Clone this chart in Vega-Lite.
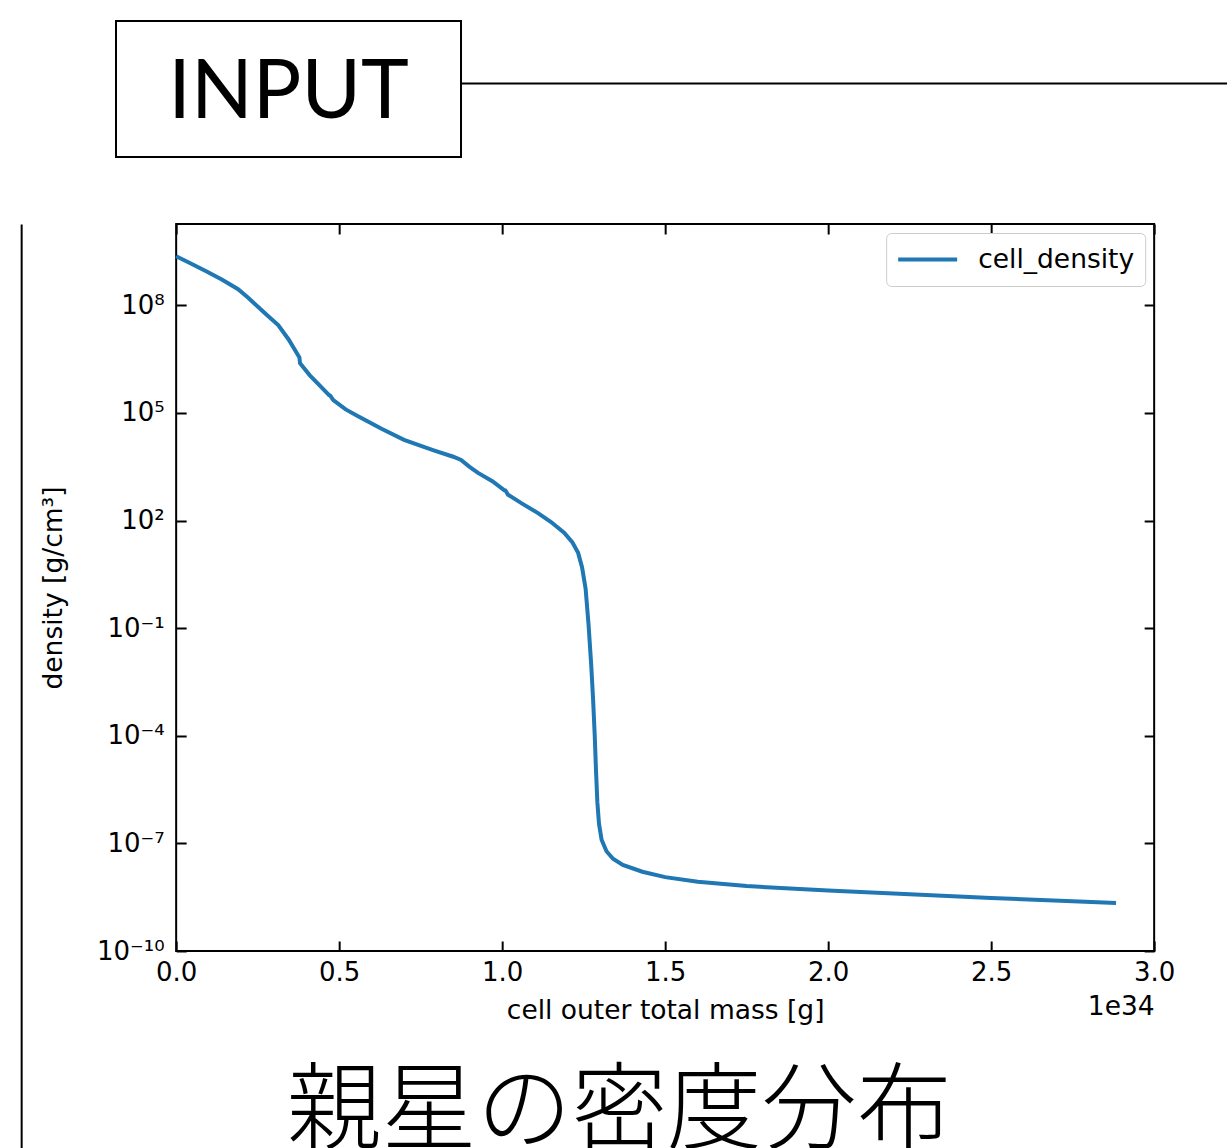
{
  "$schema": "https://vega.github.io/schema/vega-lite/v6.json",
  "background": "white",
  "padding": {"left": 20, "top": 20, "right": 0, "bottom": 0},
  "spacing": 64,
  "center": true,
  "resolve": {"scale": {"color": "independent"}, "legend": {"color": "independent"}},
  "datasets": {
    "profile": [
      {"mass": 0, "density": 2.344e9, "series": "cell_density"},
      {"mass": 4.5e32, "density": 1.479e9, "series": "cell_density"},
      {"mass": 9.2e32, "density": 8.91e8, "series": "cell_density"},
      {"mass": 1.4e33, "density": 5.25e8, "series": "cell_density"},
      {"mass": 1.9e33, "density": 2.82e8, "series": "cell_density"},
      {"mass": 2.2e33, "density": 1.66e8, "series": "cell_density"},
      {"mass": 2.5e33, "density": 9.33e7, "series": "cell_density"},
      {"mass": 2.8e33, "density": 5.25e7, "series": "cell_density"},
      {"mass": 3.13e33, "density": 2.82e7, "series": "cell_density"},
      {"mass": 3.45e33, "density": 1.122e7, "series": "cell_density"},
      {"mass": 3.74e33, "density": 4.07e6, "series": "cell_density"},
      {"mass": 3.78e33, "density": 3.55e6, "series": "cell_density"},
      {"mass": 3.8e33, "density": 2.45e6, "series": "cell_density"},
      {"mass": 4.1e33, "density": 1.122e6, "series": "cell_density"},
      {"mass": 4.4e33, "density": 5.89e5, "series": "cell_density"},
      {"mass": 4.69e33, "density": 3.16e5, "series": "cell_density"},
      {"mass": 4.73e33, "density": 3.02e5, "series": "cell_density"},
      {"mass": 4.82e33, "density": 2.29e5, "series": "cell_density"},
      {"mass": 5.2e33, "density": 1.259e5, "series": "cell_density"},
      {"mass": 5.58e33, "density": 8.13e4, "series": "cell_density"},
      {"mass": 6.3e33, "density": 3.63e4, "series": "cell_density"},
      {"mass": 6.99e33, "density": 1.778e4, "series": "cell_density"},
      {"mass": 7.9e33, "density": 9120, "series": "cell_density"},
      {"mass": 8.5e33, "density": 6030, "series": "cell_density"},
      {"mass": 8.74e33, "density": 4900, "series": "cell_density"},
      {"mass": 9.0e33, "density": 3160, "series": "cell_density"},
      {"mass": 9.26e33, "density": 2140, "series": "cell_density"},
      {"mass": 9.7e33, "density": 1259, "series": "cell_density"},
      {"mass": 1.006e34, "density": 708, "series": "cell_density"},
      {"mass": 1.01e34, "density": 692, "series": "cell_density"},
      {"mass": 1.018e34, "density": 525, "series": "cell_density"},
      {"mass": 1.06e34, "density": 302, "series": "cell_density"},
      {"mass": 1.11e34, "density": 162, "series": "cell_density"},
      {"mass": 1.15e34, "density": 91.2, "series": "cell_density"},
      {"mass": 1.19e34, "density": 45.7, "series": "cell_density"},
      {"mass": 1.215e34, "density": 25.1, "series": "cell_density"},
      {"mass": 1.233e34, "density": 12.6, "series": "cell_density"},
      {"mass": 1.245e34, "density": 5.01, "series": "cell_density"},
      {"mass": 1.256e34, "density": 1.26, "series": "cell_density"},
      {"mass": 1.265e34, "density": 0.126, "series": "cell_density"},
      {"mass": 1.273e34, "density": 0.01, "series": "cell_density"},
      {"mass": 1.279e34, "density": 0.001, "series": "cell_density"},
      {"mass": 1.284e34, "density": 1e-4, "series": "cell_density"},
      {"mass": 1.288e34, "density": 1e-5, "series": "cell_density"},
      {"mass": 1.292e34, "density": 1.41e-6, "series": "cell_density"},
      {"mass": 1.297e34, "density": 3.55e-7, "series": "cell_density"},
      {"mass": 1.305e34, "density": 1.26e-7, "series": "cell_density"},
      {"mass": 1.32e34, "density": 6.03e-8, "series": "cell_density"},
      {"mass": 1.34e34, "density": 3.72e-8, "series": "cell_density"},
      {"mass": 1.37e34, "density": 2.51e-8, "series": "cell_density"},
      {"mass": 1.43e34, "density": 1.62e-8, "series": "cell_density"},
      {"mass": 1.5e34, "density": 1.148e-8, "series": "cell_density"},
      {"mass": 1.6e34, "density": 8.51e-9, "series": "cell_density"},
      {"mass": 1.75e34, "density": 6.46e-9, "series": "cell_density"},
      {"mass": 2.0e34, "density": 4.9e-9, "series": "cell_density"},
      {"mass": 2.25e34, "density": 3.8e-9, "series": "cell_density"},
      {"mass": 2.5e34, "density": 3.02e-9, "series": "cell_density"},
      {"mass": 2.75e34, "density": 2.45e-9, "series": "cell_density"},
      {"mass": 2.883e34, "density": 2.19e-9, "series": "cell_density"}
    ]
  },
  "config": {
    "view": {"stroke": "black", "strokeWidth": 2},
    "axis": {
      "labelFont": "DejaVu Sans",
      "titleFont": "DejaVu Sans",
      "labelFontSize": 26,
      "titleFontSize": 26.5,
      "titleFontWeight": "normal",
      "labelColor": "black",
      "titleColor": "black",
      "tickColor": "black",
      "tickWidth": 2,
      "tickSize": -10,
      "domain": false,
      "domainColor": "black",
      "domainWidth": 2,
      "grid": false,
      "labelOverlap": false,
      "labelFlush": false
    },
    "legend": {
      "labelFont": "DejaVu Sans",
      "labelFontSize": 26.5,
      "labelColor": "black",
      "symbolType": "stroke",
      "symbolStrokeWidth": 4,
      "symbolSize": 3481,
      "labelOffset": 19,
      "padding": 10,
      "clipHeight": 33,
      "strokeColor": "#cccccc",
      "cornerRadius": 5,
      "fillColor": "white",
      "offset": 9
    }
  },
  "vconcat": [
    {
      "width": 345,
      "height": 136,
      "data": {"values": [{"label": "INPUT"}]},
      "mark": {"type": "text", "font": "Lato", "fontSize": 81, "align": "center", "baseline": "middle", "dy": 11, "color": "black"},
      "encoding": {
        "text": {"field": "label"},
        "y": {
          "field": "label",
          "type": "nominal",
          "scale": {"align": 0.456},
          "axis": {"orient": "right", "labels": false, "ticks": true, "tickSize": 773, "title": null, "minExtent": 773, "maxExtent": 773}
        }
      }
    },
    {
      "width": 978,
      "height": 727,
      "data": {"name": "profile"},
      "title": {
        "text": "親星の密度分布",
        "orient": "bottom",
        "anchor": "middle",
        "font": "Noto Sans CJK JP",
        "fontSize": 95,
        "fontWeight": 300,
        "color": "black",
        "offset": -83,
        "dx": -46
      },
      "resolve": {"scale": {"y": "independent"}, "axis": {"x": "independent", "y": "independent"}},
      "layer": [
        {
          "mark": {"type": "line", "strokeWidth": 4, "interpolate": "linear"},
          "encoding": {
            "x": {
              "field": "mass",
              "type": "quantitative",
              "scale": {"domain": [0, 3e34], "nice": false, "zero": false},
              "axis": {
                "orient": "bottom",
                "values": [0, 5e33, 1e34, 1.5e34, 2e34, 2.5e34, 3e34],
                "labelExpr": "format(datum.value / 1e34, '.1f')",
                "labelPadding": 18,
                "title": "cell outer total mass [g]",
                "titlePadding": 12
              }
            },
            "y": {
              "field": "density",
              "type": "quantitative",
              "scale": {"type": "log", "domain": [1e-10, 1.86e10], "nice": false},
              "axis": {
                "orient": "left",
                "values": [1e-10, 1e-7, 1e-4, 0.1, 100, 1e5, 1e8],
                "labelExpr": "datum.value < 1e-9 ? '10⁻¹⁰' : datum.value < 1e-6 ? '10⁻⁷' : datum.value < 1e-3 ? '10⁻⁴' : datum.value < 1 ? '10⁻¹' : datum.value < 1e3 ? '10²' : datum.value < 1e6 ? '10⁵' : '10⁸'",
                "labelPadding": 22,
                "minExtent": 85,
                "maxExtent": 85,
                "title": "density [g/cm³]",
                "titlePadding": 24
              }
            },
            "color": {
              "field": "series",
              "type": "nominal",
              "scale": {"range": ["#1f77b4"]},
              "legend": {"title": null, "orient": "top-right"}
            }
          }
        },
        {
          "mark": {"type": "line", "opacity": 0},
          "encoding": {
            "x": {
              "field": "mass",
              "type": "quantitative",
              "axis": {"orient": "top", "values": [0, 5e33, 1e34, 1.5e34, 2e34, 2.5e34, 3e34], "labels": false, "title": null}
            },
            "y": {
              "field": "density",
              "type": "quantitative",
              "scale": {"type": "log", "domain": [1e-10, 1.86e10], "nice": false},
              "axis": {"orient": "right", "values": [1e-10, 1e-7, 1e-4, 0.1, 100, 1e5, 1e8], "labels": false, "title": null, "minExtent": 0, "maxExtent": 0}
            }
          }
        },
        {
          "mark": {"type": "line", "opacity": 0},
          "encoding": {
            "x": {
              "field": "mass",
              "type": "quantitative",
              "axis": {"orient": "bottom", "labels": false, "ticks": false, "title": "1e34", "titleAnchor": "end", "titlePadding": 42}
            },
            "y": {
              "field": "density",
              "type": "quantitative",
              "scale": {"type": "log", "domain": [1e-10, 1.86e10], "nice": false, "range": [926, 0]},
              "axis": {"orient": "left", "offset": 155, "domain": true, "labels": false, "ticks": false, "title": null, "minExtent": 0, "maxExtent": 0}
            }
          }
        }
      ]
    }
  ]
}
